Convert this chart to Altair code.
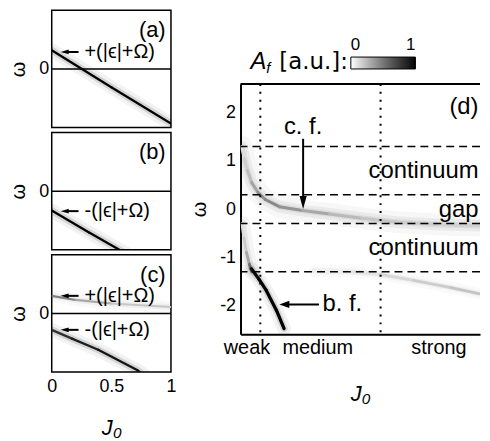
import altair as alt
import pandas as pd

FONT = "Liberation Sans"
WIDE = "DejaVu Sans"

# ---------------- left panels (a)-(c): J0 in [0,1], omega in [-1,1] ----------------
a_J = [0.0, 0.5, 1.0]
a_w = [0.32, -0.31, -0.93]
a_A = [1.0, 1.0, 1.0]

b_J = [0.0, 0.31, 0.62]
b_w = [-0.33, -0.70, -1.06]
b_A = [1.0, 1.0, 1.0]

cu_J = [0.0, 0.2, 0.5, 1.0]
cu_w = [0.30, 0.23, 0.17, 0.11]
cu_A = [0.55, 0.38, 0.25, 0.15]

cl_J = [0.0, 0.17, 0.39, 0.72, 0.78]
cl_w = [-0.28, -0.43, -0.62, -0.97, -1.06]
cl_A = [0.75, 0.85, 0.92, 0.95, 0.95]

left_x_ticks = [0, 0.5, 1]
left_y_ticks = [0]
left_x_domain = [0, 1]
left_y_domain = [-1, 1]

arrow_tail_J = 0.225
arrow_head_J = 0.075
arrow_text_J = 0.275
tag_J = 0.955
tag_w = 0.66

a_arrow_w = [0.29]
a_arrow_txt = ["+(|ϵ|+Ω)"]
b_arrow_w = [-0.34]
b_arrow_txt = ["-(|ϵ|+Ω)"]
c_arrow_w = [0.30, -0.28]
c_arrow_txt = ["+(|ϵ|+Ω)", "-(|ϵ|+Ω)"]
tags = ["(a)", "(b)", "(c)"]

# ---------------- panel (d) ----------------
d_J_domain = [0, 0.968]
d_w_domain = [-2.6, 2.6]
d_y_ticks = [-2, -1, 0, 1, 2]
d_regime_J = [0.024, 0.31, 0.80]
d_regime_txt = ["weak", "medium", "strong"]
d_dotted_J = [0.080, 0.566]
d_dashed_w = [1.3, 0.3, -0.3, -1.3]
d_top_w = [2.6]

cf_J = [0.004, 0.015, 0.028, 0.045, 0.07, 0.10, 0.157, 0.25, 0.36, 0.49, 0.63, 0.80, 0.968]
cf_w = [1.30, 1.05, 0.80, 0.55, 0.35, 0.20, 0.05, -0.03, -0.10, -0.19, -0.27, -0.32, -0.34]
cf_A = [0.08, 0.14, 0.20, 0.28, 0.38, 0.44, 0.42, 0.35, 0.28, 0.22, 0.19, 0.17, 0.15]

lc_J = [0.006, 0.014, 0.024, 0.036, 0.046]
lc_w = [-0.30, -0.60, -0.90, -1.15, -1.30]
lc_A = [0.08, 0.14, 0.24, 0.40, 0.60]

bf_J = [0.044, 0.075, 0.104, 0.145, 0.176]
bf_w = [-1.24, -1.46, -1.69, -2.10, -2.48]
bf_A = [0.95, 1.0, 1.0, 1.0, 1.0]

st_J = [0.30, 0.45, 0.566, 0.70, 0.85, 0.968]
st_w = [-1.28, -1.30, -1.36, -1.48, -1.63, -1.76]
st_A = [0.04, 0.07, 0.12, 0.16, 0.20, 0.22]

cf_arrow_J = 0.253
cf_arrow_w = [1.46, 0.0]
bf_arrow_w = -1.98
bf_arrow_J = [0.317, 0.157]

annot_left_txt = ["b. f."]
annot_left_J = [0.331]
annot_left_w = [-1.98]
annot_center_txt = ["c. f."]
annot_center_J = [0.253]
annot_center_w = [1.71]
annot_right_txt = ["(d)", "continuum", "gap", "continuum"]
annot_right_J = [0.962, 0.962, 0.962, 0.962]
annot_right_w = [2.12, 0.78, -0.02, -0.80]

legend_values = [0, 1]

# ---------------- helpers ----------------
COLOR_SCALE = alt.Scale(domain=[0, 1], range=["#ffffff", "#000000"])


def segs(J, w, A):
    rows = []
    for i in range(len(J) - 1):
        m = (A[i] + A[i + 1]) / 2
        rows.append(dict(J=J[i], w=w[i], A=m, seg=i))
        rows.append(dict(J=J[i + 1], w=w[i + 1], A=m, seg=i))
    return pd.DataFrame(rows)


def glow(J, w, A, X, Y, C, halos, core):
    df = pd.DataFrame({"J": J, "w": w})
    layers = []
    for width, op in halos:
        layers.append(
            alt.Chart(df).mark_line(color="black", strokeWidth=width, opacity=op,
                                    strokeCap="round", strokeJoin="round", clip=True)
            .encode(x=X, y=Y)
        )
    layers.append(
        alt.Chart(segs(J, w, A)).mark_line(strokeWidth=core, strokeCap="round", clip=True)
        .encode(x=X, y=Y, color=C, detail="seg:N")
    )
    return layers


left_yaxis = alt.Axis(values=left_y_ticks, labelExpr="datum.value + ''", title="ω",
                      titleFontSize=20, labelFontSize=18, ticks=False, domain=False,
                      grid=False, labelPadding=3, titlePadding=10)
left_xaxis = alt.Axis(values=left_x_ticks, labelExpr="datum.value + ''", title="J₀",
                      titleFontStyle="italic", titleFontSize=22, labelFontSize=18,
                      ticks=False, domain=False, grid=False, labelPadding=6,
                      titlePadding=22, labelFlush=False)


def left_panel(curves, arrows_w, arrows_txt, tag, show_x):
    X = alt.X("J:Q", scale=alt.Scale(domain=left_x_domain, nice=False),
              axis=left_xaxis if show_x else None)
    Y = alt.Y("w:Q", scale=alt.Scale(domain=left_y_domain, nice=False), axis=left_yaxis)
    C = alt.Color("A:Q", scale=COLOR_SCALE, legend=None)
    layers = []
    for (J, w, A, halos, core) in curves:
        layers += glow(J, w, A, X, Y, C, halos, core)
    layers.append(
        alt.Chart(pd.DataFrame({"w": [0]})).mark_rule(color="black", strokeWidth=1.5).encode(y=Y)
    )
    n = len(arrows_w)
    arr = pd.DataFrame({"J": [arrow_tail_J] * n, "J2": [arrow_head_J + 0.04] * n, "w": arrows_w})
    layers.append(alt.Chart(arr).mark_rule(color="black", strokeWidth=2).encode(x=X, x2="J2:Q", y=Y))
    heads = pd.DataFrame({"J": [arrow_head_J] * n, "w": arrows_w})
    layers.append(
        alt.Chart(heads).mark_point(shape="M0,0L2.7,-0.8L2.7,0.8Z", filled=True, size=36,
                                    color="black", opacity=1, strokeWidth=0)
        .encode(x=X, y=Y)
    )
    txt = pd.DataFrame({"J": [arrow_text_J] * n, "w": arrows_w, "t": arrows_txt})
    layers.append(
        alt.Chart(txt).mark_text(align="left", baseline="middle", fontSize=20, font=FONT, color="black")
        .encode(x=X, y=Y, text="t:N")
    )
    tg = pd.DataFrame({"J": [tag_J], "w": [tag_w], "t": [tag]})
    layers.append(
        alt.Chart(tg).mark_text(align="right", baseline="middle", fontSize=22, font=FONT, color="black")
        .encode(x=X, y=Y, text="t:N")
    )
    return alt.layer(*layers).properties(
        width=120, height=118, view=alt.ViewBackground(stroke="black", strokeWidth=1.5)
    )


black_halo = [(14, 0.05), (7, 0.12)]
gray_halo = [(12, 0.025), (6, 0.04)]

pa = left_panel([(a_J, a_w, a_A, black_halo, 2.3)], a_arrow_w, a_arrow_txt, tags[0], False)
pb = left_panel([(b_J, b_w, b_A, black_halo, 2.3)], b_arrow_w, b_arrow_txt, tags[1], False)
pc = left_panel([(cu_J, cu_w, cu_A, gray_halo, 2.2), (cl_J, cl_w, cl_A, black_halo, 2.3)],
                c_arrow_w, c_arrow_txt, tags[2], True)
left_col = alt.vconcat(pa, pb, pc, spacing=3)

# ---------------- panel (d) ----------------
regime_expr = "datum.value < %g ? '%s' : (datum.value < %g ? '%s' : '%s')" % (
    (d_regime_J[0] + d_regime_J[1]) / 2, d_regime_txt[0],
    (d_regime_J[1] + d_regime_J[2]) / 2, d_regime_txt[1], d_regime_txt[2])

Xd = alt.X("J:Q", scale=alt.Scale(domain=d_J_domain, nice=False),
           axis=alt.Axis(values=d_regime_J, labelExpr=regime_expr, ticks=False, domain=True,
                         domainColor="black", domainWidth=2, labelFontSize=20, labelPadding=3,
                         title="J₀", titleFontStyle="italic", titleFontSize=22, titlePadding=27,
                         labelFlush=False, labelOverlap=False, grid=False))
Yd = alt.Y("w:Q", scale=alt.Scale(domain=d_w_domain, nice=False),
           axis=alt.Axis(values=d_y_ticks,
                         labelExpr="datum.value < 0 ? '-' + abs(datum.value) : '' + datum.value",
                         ticks=False, domainColor="black", domainWidth=2, labelFontSize=18,
                         labelPadding=5, title="ω", titleFontSize=20, titlePadding=10, grid=False))
Cd = alt.Color("A:Q", scale=COLOR_SCALE,
               legend=alt.Legend(title=None, orient="none", legendX=111, legendY=-27,
                                 direction="horizontal", gradientLength=65, gradientThickness=12,
                                 gradientStrokeColor="black", gradientStrokeWidth=1,
                                 values=legend_values, format="d", labelOffset={"expr": "-32"},
                                 labelFontSize=17, labelFont=FONT, labelColor="black",
                                 labelAlign="center"))

d_layers = []
d_layers += glow(cf_J, cf_w, cf_A, Xd, Yd, Cd, [(22, 0.03), (12, 0.05), (6, 0.06)], 3)
d_layers += glow(lc_J, lc_w, lc_A, Xd, Yd, Cd, [(16, 0.04), (8, 0.06)], 3)
d_layers += glow(st_J, st_w, st_A, Xd, Yd, Cd, [(12, 0.02), (6, 0.04)], 3)
d_layers += glow(bf_J, bf_w, bf_A, Xd, Yd, Cd, [(14, 0.05), (7, 0.12)], 3.3)

d_layers.append(alt.Chart(pd.DataFrame({"J": d_dotted_J})).mark_rule(
    color="black", strokeWidth=2, strokeDash=[2, 6]).encode(x=Xd))
d_layers.append(alt.Chart(pd.DataFrame({"w": d_dashed_w})).mark_rule(
    color="black", strokeWidth=1.5, strokeDash=[8, 5]).encode(y=Yd))
d_layers.append(alt.Chart(pd.DataFrame({"w": d_top_w})).mark_rule(
    color="black", strokeWidth=2).encode(y=Yd))

# c.f. arrow (vertical)
d_layers.append(alt.Chart(pd.DataFrame({"J": [cf_arrow_J], "w": [cf_arrow_w[0]], "w2": [cf_arrow_w[1] + 0.15]}))
                .mark_rule(color="black", strokeWidth=2).encode(x=Xd, y=Yd, y2="w2:Q"))
d_layers.append(alt.Chart(pd.DataFrame({"J": [cf_arrow_J], "w": [cf_arrow_w[1]]}))
                .mark_point(shape="M0,0L-0.9,-3.3L0.9,-3.3Z", filled=True, size=64, color="black",
                            opacity=1, strokeWidth=0).encode(x=Xd, y=Yd))
# b.f. arrow (horizontal)
d_layers.append(alt.Chart(pd.DataFrame({"J": [bf_arrow_J[0]], "J2": [bf_arrow_J[1] + 0.03], "w": [bf_arrow_w]}))
                .mark_rule(color="black", strokeWidth=2).encode(x=Xd, x2="J2:Q", y=Yd))
d_layers.append(alt.Chart(pd.DataFrame({"J": [bf_arrow_J[1]], "w": [bf_arrow_w]}))
                .mark_point(shape="M0,0L2.5,-0.9L2.5,0.9Z", filled=True, size=64, color="black",
                            opacity=1, strokeWidth=0).encode(x=Xd, y=Yd))

for txts, Js, ws, al in [(annot_left_txt, annot_left_J, annot_left_w, "left"),
                         (annot_center_txt, annot_center_J, annot_center_w, "center"),
                         (annot_right_txt, annot_right_J, annot_right_w, "right")]:
    d_layers.append(alt.Chart(pd.DataFrame({"J": Js, "w": ws, "t": txts}))
                    .mark_text(align=al, baseline="middle", fontSize=24, font=FONT, color="black")
                    .encode(x=Xd, y=Yd, text="t:N"))

# colour-bar caption "A_f [a.u.]:"
d_layers.append(alt.Chart(pd.DataFrame({"t": ["[a.u.]:"]})).mark_text(
    align="right", baseline="alphabetic", fontSize=23, font=WIDE, color="black")
    .encode(text="t:N", x=alt.value(108), y=alt.value(-15)))
d_layers.append(alt.Chart(pd.DataFrame({"t": ["f"]})).mark_text(
    align="right", baseline="alphabetic", fontSize=15, fontStyle="italic", font=FONT, color="black")
    .encode(text="t:N", x=alt.value(30), y=alt.value(-11)))
d_layers.append(alt.Chart(pd.DataFrame({"t": ["A"]})).mark_text(
    align="right", baseline="alphabetic", fontSize=24, fontStyle="italic", font=FONT, color="black")
    .encode(text="t:N", x=alt.value(26), y=alt.value(-15)))

pd_chart = alt.layer(*d_layers).properties(
    width=241, height=252, view=alt.ViewBackground(stroke="transparent"))

# empty band above panel (d) so that its frame starts lower than panel (a)
spacer_txt = [""]
spacer = alt.Chart(pd.DataFrame({"t": spacer_txt})).mark_text().encode(text="t:N").properties(
    width=241, height=38, view=alt.ViewBackground(stroke="transparent"))
right_col = alt.vconcat(spacer, pd_chart, spacing=0).resolve_scale(
    color="independent").resolve_legend(color="independent")

chart = alt.hconcat(left_col, right_col, spacing=12).resolve_scale(
    color="independent").resolve_legend(color="independent").properties(
    padding=0).configure_axis(
    labelFont=FONT, titleFont=FONT, labelColor="black", titleColor="black",
    titleFontWeight="normal", grid=False).configure_text(font=FONT)

chart.save("out.html", embed_options={"renderer": "svg", "actions": False})
